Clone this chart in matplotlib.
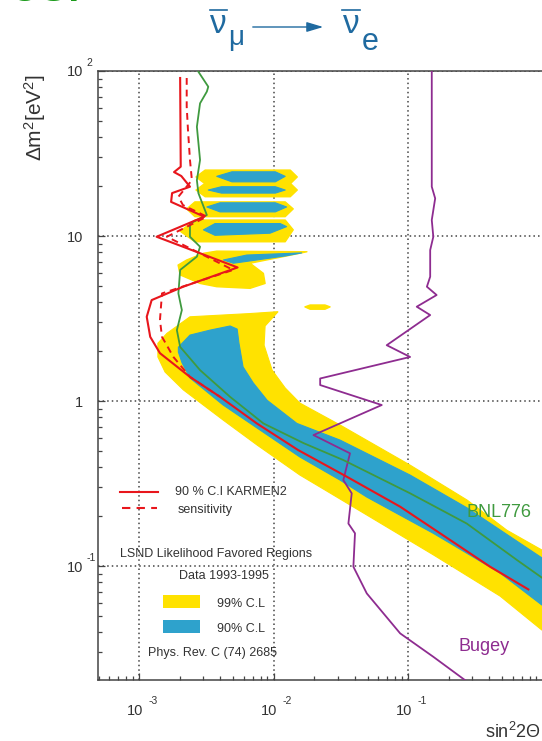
import matplotlib
matplotlib.use("Agg")
import matplotlib.pyplot as plt
from matplotlib.patches import Polygon, Rectangle, FancyArrowPatch
from matplotlib.lines import Line2D

plt.rcParams['font.family'] = ['Liberation Sans', 'DejaVu Sans']
plt.rcParams['mathtext.fontset'] = 'custom'
plt.rcParams['mathtext.rm'] = 'Liberation Sans'
plt.rcParams['mathtext.it'] = 'Liberation Sans:italic'
plt.rcParams['mathtext.bf'] = 'Liberation Sans:bold'

# ---------------- exclusion / sensitivity curves (sin^2 2theta, dm^2 [eV^2]) ----------------
karmen_sin2 = [2.02e-3, 2.04e-3, 1.82e-3, 2.06e-3, 2.39e-3, 1.76e-3, 1.73e-3, 3.05e-3, 1.35e-3,
               5.40e-3, 2.13e-3, 1.24e-3, 1.14e-3, 1.21e-3, 1.43e-3, 2.39e-3, 4.0e-3, 7.50e-3,
               1.52e-2, 3.50e-2, 8.73e-2, 0.205, 0.407, 0.784]
karmen_dm2 = [90.7, 26.3, 24.4, 23.1, 19.9, 18.2, 16.1, 13.1, 9.9,
              6.45, 4.93, 4.09, 3.24, 2.45, 1.95, 1.40, 1.06, 0.732,
              0.505, 0.348, 0.229, 0.144, 0.0991, 0.0722]

sens_sin2 = [2.26e-3, 2.26e-3, 2.31e-3, 2.39e-3, 2.47e-3, 1.96e-3, 2.12e-3, 3.19e-3, 1.61e-3,
             5.0e-3, 1.48e-3, 1.43e-3, 1.48e-3, 1.80e-3, 2.39e-3, 4.0e-3]
sens_dm2 = [90.7, 60.8, 43.9, 28.9, 21.8, 17.3, 15.4, 13.1, 9.9,
            6.23, 4.49, 3.10, 2.45, 1.85, 1.40, 1.06]

bnl_sin2 = [2.76e-3, 3.27e-3, 3.19e-3, 2.84e-3, 2.69e-3, 2.84e-3, 2.69e-3, 2.76e-3, 3.19e-3,
            2.39e-3, 2.39e-3, 2.84e-3, 2.69e-3, 2.02e-3, 1.96e-3, 2.08e-3, 1.91e-3, 2.02e-3,
            2.84e-3, 4.75e-3, 8.40e-3, 1.67e-2, 3.30e-2, 0.1035, 0.273, 0.643, 0.99]
bnl_dm2 = [99, 80.3, 75.0, 63.7, 45.9, 28.9, 21.8, 18.2, 13.4,
           11.9, 9.9, 8.61, 7.50, 6.23, 4.49, 3.56, 2.69, 2.13,
           1.54, 1.06, 0.732, 0.556, 0.439, 0.276, 0.181, 0.109, 0.085]

bugey_sin2 = [0.150, 0.150, 0.159, 0.150, 0.154, 0.146, 0.146, 0.138, 0.163, 0.116, 0.146,
              6.94e-2, 0.1035, 2.22e-2, 2.22e-2, 6.37e-2, 1.98e-2, 3.70e-2, 3.30e-2, 3.81e-2,
              3.60e-2, 4.03e-2, 3.92e-2, 4.93e-2, 8.73e-2, 0.154, 0.273]
bugey_dm2 = [100, 19.9, 16.9, 12.5, 9.9, 8.22, 5.67, 4.93, 4.39, 3.73, 3.32,
             2.18, 1.85, 1.37, 1.25, 0.946, 0.622, 0.482, 0.332, 0.276,
             0.181, 0.158, 0.0991, 0.0683, 0.0391, 0.0282, 0.0200]

# ---------------- LSND favoured regions ----------------
lsnd99_sin2 = [1.08e-2, 8.65e-3, 8.50e-3, 9.75e-3, 1.22e-2, 1.57e-2, 3.12e-2, 0.1035, 0.275, 0.542,
               0.99, 0.99, 0.483, 0.154, 4.93e-2, 2.22e-2, 1.57e-2, 7.55e-3, 4.22e-3, 2.13e-3,
               1.56e-3, 1.38e-3, 1.38e-3, 1.61e-3, 2.39e-3, 6.69e-3]
lsnd99_dm2 = [3.48, 2.85, 2.18, 1.54, 1.20, 0.972, 0.716, 0.409, 0.251, 0.165,
              0.125, 0.0409, 0.0658, 0.117, 0.204, 0.301, 0.356, 0.541, 0.767, 1.17,
              1.50, 1.85, 2.24, 2.57, 3.24, 3.39]

lsnd90_sin2 = [1.96e-3, 2.39e-3, 3.37e-3, 4.75e-3, 5.36e-3, 5.53e-3, 5.93e-3, 7.05e-3, 8.96e-3,
               1.49e-2, 3.12e-2, 0.1035, 0.275, 0.99, 0.99, 0.483, 0.154, 4.93e-2, 3.12e-2,
               1.57e-2, 7.55e-3, 4.22e-3, 2.39e-3, 2.09e-3, 1.96e-3]
lsnd90_dm2 = [2.12, 2.51, 2.69, 2.85, 2.73, 2.24, 1.61, 1.29, 1.01,
              0.732, 0.580, 0.356, 0.225, 0.112, 0.058, 0.0908, 0.158, 0.262, 0.332,
              0.458, 0.686, 0.946, 1.38, 1.70, 1.98]

island1_99 = [(2.65e-3, 22.8), (3.1e-3, 25.1), (1.33e-2, 25.1), (1.5e-2, 22.8), (1.33e-2, 20.7), (3.1e-3, 20.7)]
island1_90 = [(3.78e-3, 23.0), (4.9e-3, 24.5), (1.03e-2, 24.5), (1.22e-2, 23.0), (1.03e-2, 21.3), (4.9e-3, 21.3)]
island2_99 = [(2.65e-3, 19.0), (3.1e-3, 20.9), (1.33e-2, 20.9), (1.5e-2, 19.0), (1.33e-2, 17.3), (3.1e-3, 17.3)]
island2_90 = [(3.27e-3, 19.0), (4.1e-3, 19.9), (1.03e-2, 19.9), (1.22e-2, 19.0), (1.03e-2, 18.2), (4.1e-3, 18.2)]
island3_99 = [(2.26e-3, 14.6), (2.6e-3, 16.1), (1.22e-2, 16.1), (1.4e-2, 14.6), (1.22e-2, 13.1), (2.6e-3, 13.1)]
island3_90 = [(3.19e-3, 15.0), (4.0e-3, 15.9), (1.03e-2, 15.9), (1.25e-2, 15.0), (1.03e-2, 14.0), (4.0e-3, 14.0)]
island4_99 = [(2.02e-3, 10.7), (2.6e-3, 12.5), (1.22e-2, 12.5), (1.4e-2, 10.9), (1.22e-2, 9.23), (2.6e-3, 9.23)]
island4_90 = [(3.01e-3, 10.9), (3.67e-3, 11.9), (1.12e-2, 11.9), (1.25e-2, 11.4), (9.4e-3, 10.4), (3.67e-3, 10.1)]
island5_99 = [(3.01e-3, 7.86), (3.78e-3, 8.10), (1.77e-2, 8.03), (1.18e-2, 7.50), (6.69e-3, 6.84),
              (8.40e-3, 5.94), (8.65e-3, 5.16), (6.69e-3, 4.82), (3.78e-3, 4.93), (2.84e-3, 5.16),
              (2.02e-3, 5.81), (1.95e-3, 6.67), (2.26e-3, 7.16)]
island5_90 = [(4.24e-3, 7.16), (6.32e-3, 7.67), (1.62e-2, 7.9), (1.22e-2, 7.57), (5.03e-3, 6.84)]
blob_99 = [(1.71e-2, 3.72), (1.87e-2, 3.82), (2.41e-2, 3.82), (2.63e-2, 3.72), (2.41e-2, 3.60), (1.87e-2, 3.60)]

# ---------------- axis ticks ----------------
xtick_vals = [1e-3, 1e-2, 1e-1]
xtick_base = ['10', '10', '10']
xtick_exp = ['-3', '-2', '-1']
ytick_vals = [100, 10, 1, 0.1]
ytick_base = ['10', '10', '1', '10']
ytick_exp = ['2', '', '', '-1']

YELLOW = '#FFE200'
BLUE = '#2EA2CC'
RED = '#E8161C'
GREEN = '#3F9A3F'
PURPLE = '#8E2C90'
TXT = '#333333'
TITLE = '#1F6AA0'

fig = plt.figure(figsize=(5.42, 7.41), dpi=100)
ax = fig.add_axes([98 / 542, 61 / 741, 444 / 542, 609 / 741])
ax.set_xscale('log')
ax.set_yscale('log')
ax.set_xlim(4.95e-4, 0.99)
ax.set_ylim(0.0204, 100)
ax.set_axisbelow(True)

ax.grid(True, which='major', linestyle=(0, (1, 2)), color='#444444', lw=1.1)
ax.tick_params(which='both', direction='in', labelleft=False, labelbottom=False,
               color='#444444', width=0.9, top=False, right=False)
ax.tick_params(which='major', length=5)
ax.tick_params(which='minor', length=3)
for side in ('left', 'bottom', 'top'):
    ax.spines[side].set_color('#444444')
    ax.spines[side].set_linewidth(1.1)
ax.spines['right'].set_visible(False)

# favoured regions
ax.add_patch(Polygon(list(zip(lsnd99_sin2, lsnd99_dm2)), closed=True, fc=YELLOW, ec=YELLOW, lw=0.8, zorder=1))
for isl in (island1_99, island2_99, island3_99, island4_99, island5_99, blob_99):
    ax.add_patch(Polygon(isl, closed=True, fc=YELLOW, ec=YELLOW, lw=1.0, joinstyle='round', zorder=1))
ax.add_patch(Polygon(list(zip(lsnd90_sin2, lsnd90_dm2)), closed=True, fc=BLUE, ec=BLUE, lw=0.8, zorder=2))
for isl in (island1_90, island2_90, island3_90, island4_90, island5_90):
    ax.add_patch(Polygon(isl, closed=True, fc=BLUE, ec=BLUE, lw=0.8, joinstyle='round', zorder=2))

# curves
ax.plot(bugey_sin2, bugey_dm2, color=PURPLE, lw=1.3, zorder=3)
ax.plot(bnl_sin2, bnl_dm2, color=GREEN, lw=1.3, zorder=4)
ax.plot(sens_sin2, sens_dm2, color=RED, lw=1.4, ls=(0, (3.5, 2.5)), zorder=5)
ax.plot(karmen_sin2, karmen_dm2, color=RED, lw=1.5, zorder=6)

# curve labels
ax.text(0.831, 0.2677, 'BNL776', color=GREEN, fontsize=13, transform=ax.transAxes, va='baseline')
ax.text(0.811, 0.0476, 'Bugey', color=PURPLE, fontsize=13, transform=ax.transAxes, va='baseline')

# in-plot key
ax.add_line(Line2D([0.0495, 0.135], [0.3095, 0.3095], color=RED, lw=1.5, transform=ax.transAxes))
ax.add_line(Line2D([0.054, 0.133], [0.2819, 0.2819], color=RED, lw=1.5, ls=(0, (4, 3)), transform=ax.transAxes))
ax.text(0.173, 0.3038, '90 % C.I KARMEN2', fontsize=9, color=TXT, transform=ax.transAxes, va='baseline')
ax.text(0.180, 0.2742, 'sensitivity', fontsize=9, color=TXT, transform=ax.transAxes, va='baseline')
ax.text(0.266, 0.2020, 'LSND Likelihood Favored Regions', fontsize=9, color=TXT,
        transform=ax.transAxes, va='baseline', ha='center')
ax.text(0.284, 0.1658, 'Data 1993-1995', fontsize=9, color=TXT, transform=ax.transAxes,
        va='baseline', ha='center')
ax.add_patch(Rectangle((0.147, 0.1177), 0.0827, 0.0218, fc=YELLOW, ec='none', transform=ax.transAxes))
ax.add_patch(Rectangle((0.147, 0.0767), 0.0827, 0.0218, fc=BLUE, ec='none', transform=ax.transAxes))
ax.text(0.268, 0.1199, '99% C.L', fontsize=9, color=TXT, transform=ax.transAxes, va='baseline')
ax.text(0.268, 0.0788, '90% C.L', fontsize=9, color=TXT, transform=ax.transAxes, va='baseline')
ax.text(0.113, 0.0394, 'Phys. Rev. C (74) 2685', fontsize=9, color=TXT, transform=ax.transAxes, va='baseline')

# tick labels: base number with a raised exponent
for v, b, e in zip(ytick_vals, ytick_base, ytick_exp):
    ax.annotate(b, xy=(0, v), xycoords=('axes fraction', 'data'), xytext=(-10.8, 0),
                textcoords='offset points', ha='right', va='center_baseline', fontsize=10.5, color=TXT)
    if e:
        ax.annotate(e, xy=(0, v), xycoords=('axes fraction', 'data'), xytext=(-8.6, 6.5),
                    textcoords='offset points', ha='left', va='center_baseline', fontsize=7.5, color=TXT)
for v, b, e in zip(xtick_vals, xtick_base, xtick_exp):
    ax.annotate(b, xy=(v, 0), xycoords=('data', 'axes fraction'), xytext=(2.9, -20.9),
                textcoords='offset points', ha='right', va='center_baseline', fontsize=10.5, color=TXT)
    ax.annotate(e, xy=(v, 0), xycoords=('data', 'axes fraction'), xytext=(6.5, -14.4),
                textcoords='offset points', ha='left', va='center_baseline', fontsize=7.5, color=TXT)

# axis titles
fig.text(0.0646, 0.8408, r'$\Delta\mathrm{m}^2[\mathrm{eV}^2]$', rotation=90, ha='center', va='center',
         fontsize=15, color=TXT)
fig.text(485 / 542, 1 - 738 / 741, r'$\mathrm{sin}^2\mathrm{2}\Theta$', ha='left', va='baseline',
         fontsize=13, color=TXT)

# reaction title:  anti-nu_mu -> anti-nu_e
fig.text(218 / 542, 1 - 33 / 741, 'ν', fontsize=24, color=TITLE, ha='center', va='baseline')
fig.text(228 / 542, 1 - 45 / 741, 'μ', fontsize=20, color=TITLE, ha='left', va='baseline')
fig.add_artist(Line2D([210 / 542, 227 / 542], [1 - 10 / 741] * 2, color=TITLE, lw=1.2))
fig.add_artist(FancyArrowPatch((250 / 542, 1 - 27 / 741), (326 / 542, 1 - 27 / 741),
                               transform=fig.transFigure, arrowstyle='-|>,head_length=1.0,head_width=0.3',
                               mutation_scale=10, lw=1.0, color=TITLE))
fig.text(351.7 / 542, 1 - 33 / 741, 'ν', fontsize=24, color=TITLE, ha='center', va='baseline')
fig.text(362 / 542, 1 - 50 / 741, 'e', fontsize=22, color=TITLE, ha='left', va='baseline')
fig.add_artist(Line2D([341.7 / 542, 360 / 542], [1 - 9.5 / 741] * 2, color=TITLE, lw=1.2))

# fragment of the slide heading above the panel
fig.text(0.02, 1 - 1 / 741, 'UGI', fontsize=28, fontweight='bold', color='#1A9A1A', va='baseline')

fig.savefig('out.png', dpi=100)
